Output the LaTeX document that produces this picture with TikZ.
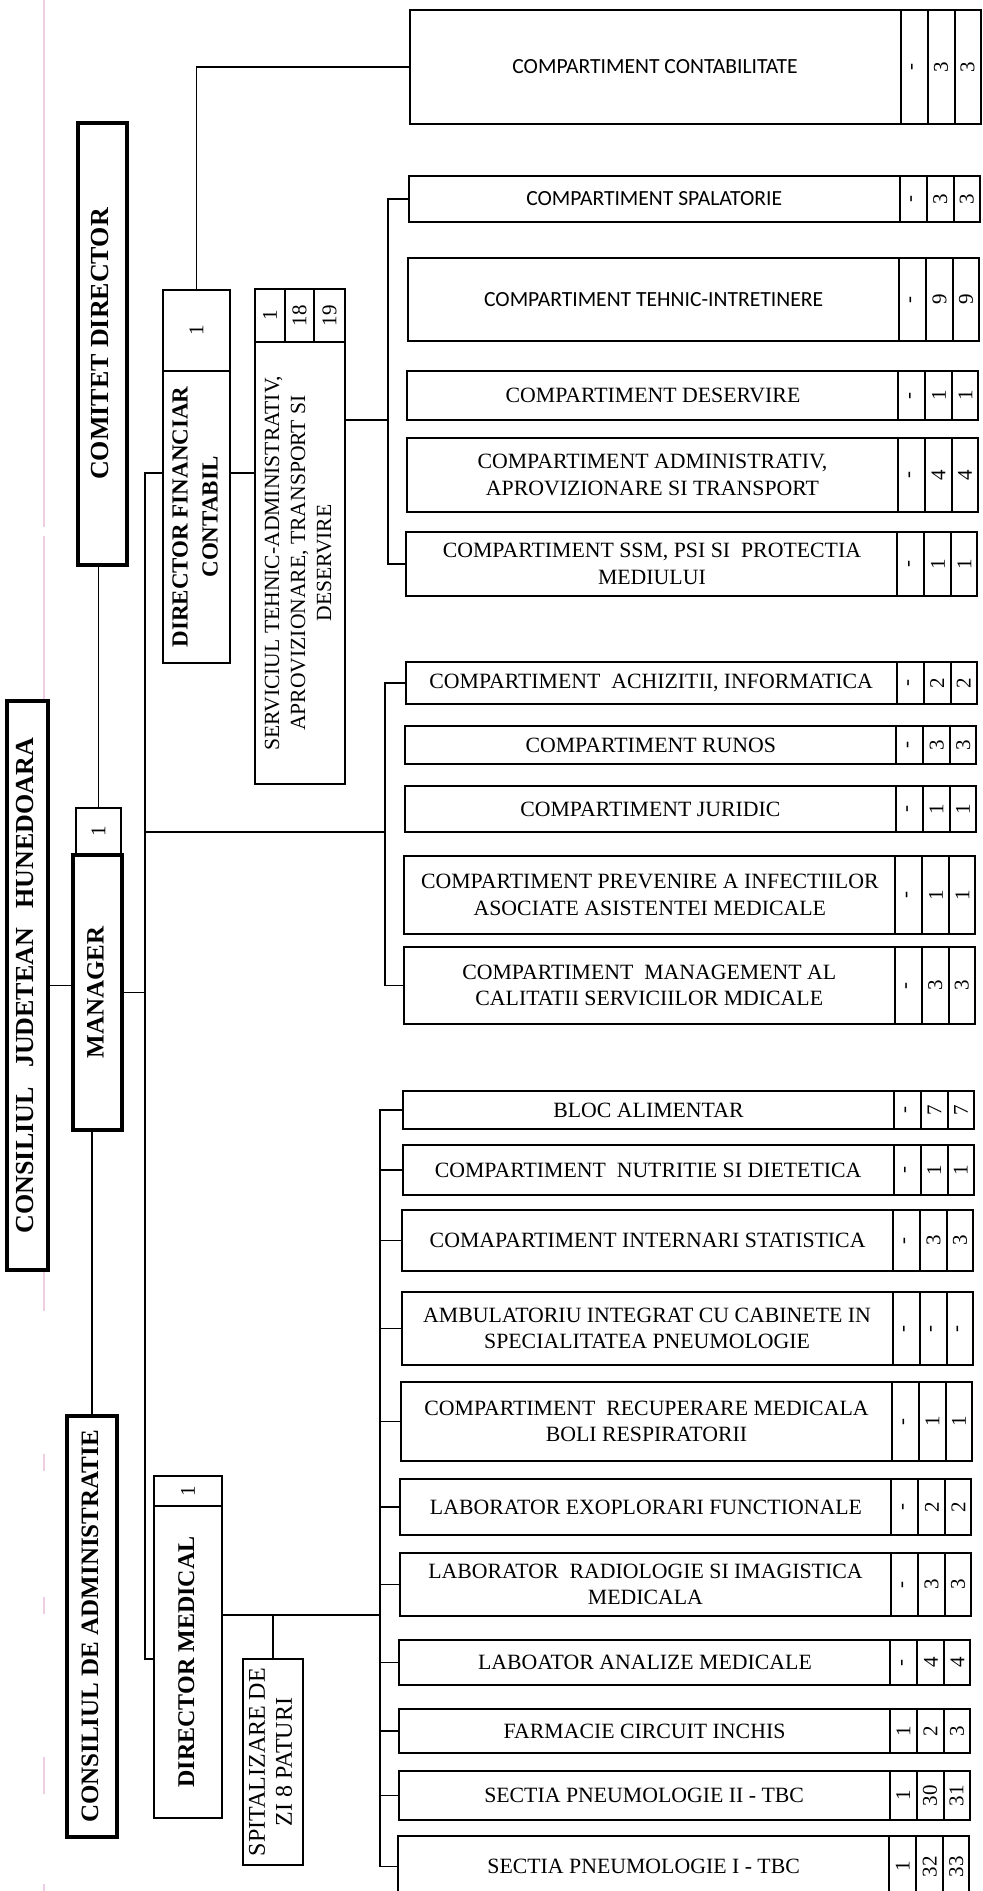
\documentclass[tikz,border=0pt]{standalone}
\usepackage{fontspec}
\setmainfont{Liberation Serif}
\newfontfamily\calib{Carlito}
\usepackage{graphicx}

\newcommand\vtxt[1]{\rotatebox{90}{\begin{tabular}{@{}c@{}}#1\end{tabular}}}
\newcommand\vnum[1]{\rotatebox{90}{#1}}

\definecolor{pinkart}{RGB}{236,205,225}

\tikzset{
  bx/.style={draw, fill=white, line width=1pt, inner sep=0pt, outer sep=0pt, align=center},
  tbx/.style={bx, line width=2.2pt},
  ln/.style={line width=0.85pt},
  rtxt/.style={font=\fontsize{10.9}{13.2}\selectfont},
  ctxt/.style={font=\calib\fontsize{10.8}{13}\selectfont},
  ntxt/.style={font=\fontsize{10.5}{12}\selectfont},
  bigb/.style={font=\bfseries\fontsize{13}{15}\selectfont},
}

% name, x1, y1, x2, y2, style, text
\newcommand\mkbox[7]{%
  \node[#6, minimum width={(#4-(#2))*0.5pt}, minimum height={(#5-(#3))*0.5pt}]
    (#1) at ({(#2+#4)/2},{(#3+#5)/2}) {#7};}

% name, y1, y2, style, text, a, b, c
\newcommand\rbx[8]{%
  \pgfmathsetmacro\rbD{-0.003173*(#2+#3)}%
  \pgfmathsetmacro\rbL{410+\rbD}%
  \pgfmathsetmacro\rbR{981+\rbD}%
  \pgfmathsetmacro\rbA{\rbR-80}%
  \pgfmathsetmacro\rbB{\rbR-53}%
  \pgfmathsetmacro\rbC{\rbR-26}%
  \mkbox{#1}{\rbL}{#2}{\rbA}{#3}{bx,#4}{#5}%
  \mkbox{#1a}{\rbA}{#2}{\rbB}{#3}{bx,ntxt}{\vnum{#6}}%
  \mkbox{#1b}{\rbB}{#2}{\rbC}{#3}{bx,ntxt}{\vnum{#7}}%
  \mkbox{#1c}{\rbC}{#2}{\rbR}{#3}{bx,ntxt}{\vnum{#8}}%
}

\begin{document}
\begin{tikzpicture}[x=0.5pt,y=-0.5pt]
\fill[white] (0,0) rectangle (982,1891);
\useasboundingbox (0,0) rectangle (982,1891);

% scan artefact (pink margin line)
\draw[pinkart, line width=1pt] (44,0) -- (44,527);
\draw[pinkart, line width=1pt] (44,536) -- (44,1311);
\foreach \a/\b in {1454/1471,1597/1614,1757/1794,1884/1891}
  \draw[pinkart, line width=1pt] (44,\a) -- (44,\b);

% ---------- left hierarchy ----------
\mkbox{comitet}{78}{123}{127}{565}{tbx,bigb}{\vtxt{COMITET DIRECTOR}}
\mkbox{cjh}{7}{701}{48}{1270}{tbx,bigb}{\vtxt{CONSILIUL\ \ \ JUDETEAN\ \ \ HUNEDOARA}}
\mkbox{mgrn}{76}{808}{121}{855}{bx,ntxt}{\vnum{1}}
\mkbox{mgr}{73}{855}{122}{1130}{tbx,font=\bfseries\fontsize{12.5}{15}\selectfont}{\vtxt{MANAGER}}
\mkbox{cda}{67}{1416}{117}{1837}{tbx,font=\bfseries\fontsize{12.5}{15}\selectfont}{\vtxt{CONSILIUL DE ADMINISTRATIE}}

\mkbox{dfinn}{163}{290}{230}{371}{bx,ntxt}{\vnum{1}}
\mkbox{dfin}{163}{371}{230}{663}{bx,font=\bfseries\fontsize{11.5}{15}\selectfont}{\vtxt{DIRECTOR FINANCIAR\\CONTABIL}}

\mkbox{srva}{255}{289}{285}{342}{bx,ntxt}{\vnum{1}}
\mkbox{srvb}{285}{289}{314}{342}{bx,ntxt}{\vnum{18}}
\mkbox{srvc}{314}{289}{345}{342}{bx,ntxt}{\vnum{19}}
\mkbox{srv}{255}{342}{345}{784}{bx,font=\fontsize{10.8}{13}\selectfont}{\vtxt{SERVICIUL TEHNIC-ADMINISTRATIV,\\APROVIZIONARE, TRANSPORT SI\\DESERVIRE}}

\mkbox{dmedn}{154}{1476}{222}{1506}{bx,ntxt}{\vnum{1}}
\mkbox{dmed}{154}{1506}{222}{1818}{bx,font=\bfseries\fontsize{12}{15}\selectfont}{\vtxt{DIRECTOR MEDICAL}}
\mkbox{spit}{243}{1659}{303}{1865}{bx,font=\fontsize{12}{13.5}\selectfont}{\vtxt{SPITALIZARE DE\\ZI 8 PATURI}}

% ---------- right column ----------
\rbx{cont}{10}{124}{ctxt}{COMPARTIMENT CONTABILITATE}{-}{3}{3}
\rbx{spal}{176}{222}{ctxt}{COMPARTIMENT SPALATORIE}{-}{3}{3}
\rbx{tehn}{258}{341}{ctxt}{COMPARTIMENT TEHNIC-INTRETINERE}{-}{9}{9}
\rbx{deserv}{371}{420}{rtxt}{COMPARTIMENT DESERVIRE}{-}{1}{1}
\rbx{admin}{438}{512}{rtxt}{COMPARTIMENT ADMINISTRATIV,\\APROVIZIONARE SI TRANSPORT}{-}{4}{4}
\rbx{ssm}{532}{596}{rtxt}{COMPARTIMENT SSM, PSI SI\ \ PROTECTIA\\MEDIULUI}{-}{1}{1}

\rbx{achiz}{662}{704}{rtxt}{COMPARTIMENT\ \ ACHIZITII, INFORMATICA}{-}{2}{2}
\rbx{runos}{726}{764}{rtxt}{COMPARTIMENT RUNOS}{-}{3}{3}
\rbx{jur}{786}{832}{rtxt}{COMPARTIMENT JURIDIC}{-}{1}{1}
\rbx{prev}{856}{934}{rtxt}{COMPARTIMENT PREVENIRE A INFECTIILOR\\ASOCIATE ASISTENTEI MEDICALE}{-}{1}{1}
\rbx{mgmt}{947}{1024}{rtxt}{COMPARTIMENT\ \ MANAGEMENT AL\\CALITATII SERVICIILOR MDICALE}{-}{3}{3}

\rbx{bloc}{1091}{1129}{rtxt}{BLOC ALIMENTAR}{-}{7}{7}
\rbx{nutr}{1145}{1195}{rtxt}{COMPARTIMENT\ \ NUTRITIE SI DIETETICA}{-}{1}{1}
\rbx{intern}{1210}{1271}{rtxt}{COMAPARTIMENT INTERNARI STATISTICA}{-}{3}{3}
\rbx{ambul}{1292}{1365}{rtxt}{AMBULATORIU INTEGRAT CU CABINETE IN\\SPECIALITATEA PNEUMOLOGIE}{-}{-}{-}
\rbx{recup}{1382}{1461}{rtxt}{COMPARTIMENT\ \ RECUPERARE MEDICALA\\BOLI RESPIRATORII}{-}{1}{1}
\rbx{labexo}{1479}{1535}{rtxt}{LABORATOR EXOPLORARI FUNCTIONALE}{-}{2}{2}
\rbx{radio}{1553}{1616}{rtxt}{LABORATOR\ \ RADIOLOGIE SI IMAGISTICA\\MEDICALA}{-}{3}{3}
\rbx{anal}{1640}{1685}{rtxt}{LABOATOR ANALIZE MEDICALE}{-}{4}{4}
\rbx{farm}{1709}{1753}{rtxt}{FARMACIE CIRCUIT INCHIS}{1}{2}{3}
\rbx{sii}{1771}{1820}{rtxt}{SECTIA PNEUMOLOGIE II - TBC}{1}{30}{31}
\rbx{si}{1836}{1897}{rtxt}{SECTIA PNEUMOLOGIE I - TBC}{1}{32}{33}

% ---------- connectors ----------
\coordinate (sp1) at (145,473);
\coordinate (sp2) at (145,1659);
\coordinate (tj) at (388,420);
\coordinate (mj) at (385,832);
\coordinate (bj) at (380,1615);

\draw[ln] (comitet.south -| mgrn.north) -- (mgrn.north);
\draw[ln] (mgr.south -| cda.north) -- (cda.north);
\draw[ln] (cjh.east) -- (cjh.east -| mgr.west);
\draw[ln] (mgr.east) -- (mgr.east -| sp1);
\draw[ln] (sp1 -| dfin.west) -- (sp1) -- (sp2) -- (sp2 -| dmed.west);
\draw[ln] (sp1 -| dfin.east) -- (sp1 -| srv.west);
\draw[ln] (dfinn.north) |- (cont.west);

\draw[ln] (tj -| srv.east) -- (tj);
\draw[ln] (spal.west) -| (tj);
\draw[ln] (ssm.west) -| (tj);

\draw[ln] (mj -| sp1) -- (mj);
\draw[ln] (achiz.west) -| (mj);
\draw[ln] (mgmt.west) -| (mj);

\draw[ln] (bj -| dmed.east) -- (bj);
\draw[ln] (spit.north) -- (spit.north |- bj);
\draw[ln] (bloc.west) -| (bj);
\draw[ln] (si.west) -| (bj);
\foreach \n in {nutr,intern,ambul,recup,labexo,radio,anal,farm,sii}
  \draw[ln] (\n.west) -- (\n.west -| bj);
\end{tikzpicture}
\end{document}
